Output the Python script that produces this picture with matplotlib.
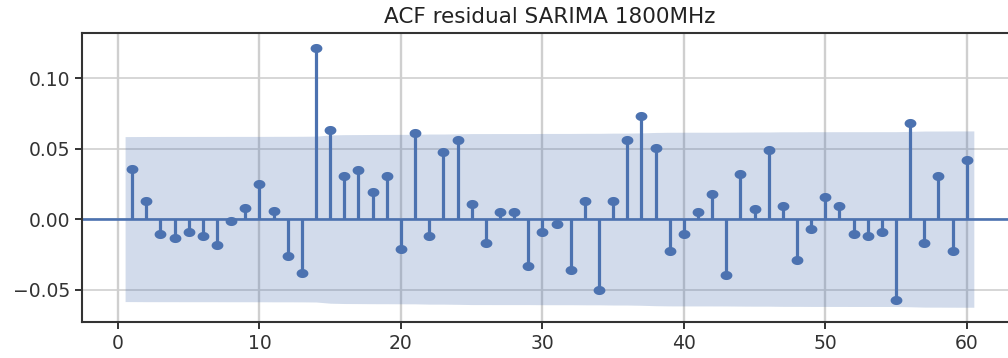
import numpy as np
import matplotlib.pyplot as plt

# autocorrelation of the SARIMA residuals, lags 1..60
lags = np.arange(1, 61)
acf_vals = [
    0.0355, 0.0128, -0.0109, -0.0137, -0.0095, -0.0123, -0.0184, -0.0014, 0.0080, 0.0250,
    0.0059, -0.0265, -0.0385, 0.1215, 0.0631, 0.0307, 0.0345, 0.0189, 0.0307, -0.0215,
    0.0608, -0.0121, 0.0478, 0.0558, 0.0106, -0.0170, 0.0047, 0.0047, -0.0336, -0.0095,
    -0.0038, -0.0359, 0.0128, -0.0504, 0.0128, 0.0558, 0.0728, 0.0501, -0.0225, -0.0109,
    0.0047, 0.0180, -0.0397, 0.0322, 0.0071, 0.0487, 0.0095, -0.0288, -0.0071, 0.0156,
    0.0095, -0.0109, -0.0123, -0.0095, -0.0577, 0.0681, -0.0170, 0.0307, -0.0225, 0.0416,
]
nobs = 1122  # number of residuals used for the confidence band

acf_vals = np.array(acf_vals)
blue = '#4C72B0'

# Bartlett's formula for the 95% band
varcorr = np.ones(len(lags)) / nobs
varcorr[1:] = (1 + 2 * np.cumsum(acf_vals[:-1] ** 2)) / nobs
band = 1.96 * np.sqrt(varcorr)

# slightly wide oval marker
t = np.linspace(0, 2 * np.pi, 41)
oval = np.column_stack([1.3 * np.cos(t), np.sin(t)])

fig = plt.figure(figsize=(10.08, 3.58), dpi=100)
ax = fig.add_axes([0.0813, 0.1006, 0.9276, 0.8072])

ax.set_axisbelow(True)
ax.xaxis.grid(True, color='#cfcfcf', linewidth=1.7)
ax.yaxis.grid(True, color='#cfcfcf', linewidth=1.2)
ax.axhline(0, color=blue, linewidth=1.9, zorder=2)
ax.vlines(lags, 0, acf_vals, color=blue, linewidth=2.3, zorder=3)
ax.plot(lags, acf_vals, linestyle='none', marker=oval, color=blue,
        markersize=8.5, markeredgewidth=0, zorder=4)

xb = lags.astype(float)
xb[0] -= 0.5
xb[-1] += 0.5
ax.fill_between(xb, -band, band, color=blue, alpha=0.25, linewidth=0, zorder=1)

ax.set_xlim(-2.55, 63.55)
ax.set_ylim(-0.073, 0.132)
ax.set_yticks([-0.05, 0.0, 0.05, 0.10])
ax.set_xticks([0, 10, 20, 30, 40, 50, 60])
ax.tick_params(labelsize=13.5, length=5, width=1.4, colors='#333333')
for s in ax.spines.values():
    s.set_color('#333333')
    s.set_linewidth(1.5)
ax.set_title('ACF residual SARIMA 1800MHz', fontsize=15.5, color='#222222', pad=7)

fig.savefig('out.png', dpi=100)
